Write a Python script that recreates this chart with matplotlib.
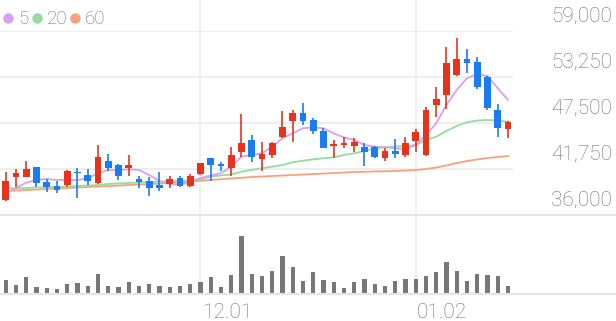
import matplotlib
matplotlib.use('Agg')
import matplotlib.pyplot as plt
from matplotlib.lines import Line2D

plt.rcParams['font.family'] = ['Roboto', 'DejaVu Sans']

# daily candles (open, high, low, close)
opens = [37900, 40700, 40800, 42000, 40100, 39650, 39750, 41350, 41050, 40050,
         42800, 42200, 41850, 40450, 40250, 39700, 39850, 40650, 39650, 41150,
         43100, 42350, 41900, 43850, 45400, 42950, 43500, 45700, 47800, 48700,
         47850, 46500, 44650, 44750, 44600, 44450, 44550, 43150, 44050, 43500,
         45300, 43500, 49750, 51000, 53450, 55450, 55100, 53200, 49100, 46700]
highs = [41400, 41700, 42700, 42050, 40500, 40300, 41600, 41850, 41700, 44700,
         43600, 42400, 43500, 40850, 40800, 41400, 40850, 40850, 41150, 42550,
         43150, 42650, 44450, 48600, 46000, 45150, 45150, 49000, 49100, 49950,
         48100, 46850, 45350, 45800, 45650, 45050, 44600, 44400, 45450, 45700,
         46700, 49550, 51950, 56950, 58100, 56700, 55800, 53400, 49850, 47700]
lows = [37800, 39500, 40750, 39550, 38850, 38800, 39550, 38100, 39750, 39900,
        41500, 40400, 40900, 39400, 38400, 39050, 39400, 39500, 39500, 41000,
        40250, 41500, 40900, 43300, 42650, 41500, 43150, 45600, 45150, 47250,
        46100, 44350, 43150, 44350, 43850, 42150, 43100, 42750, 43100, 43200,
        43900, 43400, 48300, 49200, 53350, 53800, 51700, 49100, 45800, 45600]
closes = [40300, 41200, 41800, 40050, 39450, 39100, 41550, 41200, 40250, 43300,
          41900, 40900, 42250, 40100, 39350, 39350, 40550, 39650, 40900, 42550,
          42200, 42100, 43500, 45050, 43300, 43600, 44950, 47050, 48700, 47800,
          46500, 44400, 44850, 45050, 45150, 43900, 43300, 44050, 43600, 44950,
          46400, 49100, 50500, 54950, 55450, 55050, 51950, 49350, 46850, 47650]
volumes = [137000, 83000, 160000, 63000, 50000, 47000, 93000, 103000, 70000, 193000,
           77000, 63000, 117000, 70000, 90000, 77000, 63000, 73000, 93000, 117000,
           160000, 67000, 180000, 577000, 193000, 173000, 220000, 370000, 263000, 127000,
           213000, 130000, 117000, 57000, 113000, 140000, 90000, 73000, 123000, 140000,
           147000, 170000, 217000, 310000, 227000, 120000, 190000, 180000, 170000, 77000]

# moving averages
ma5 = [38710, 39380, 40040, 40380, 40500, 40380, 40380, 40380, 40590, 41210,
       41630, 41630, 41710, 41630, 41000, 40250, 39880, 39750, 40130, 40630,
       40940, 41210, 42040, 43290, 43500, 43710, 44540, 45590, 46210, 46840,
       46960, 46840, 46210, 45690, 45380, 44750, 44540, 44460, 44340, 44210,
       44750, 46000, 47460, 49750, 51630, 53090, 53630, 53380, 51840, 50380]
ma20 = [39380, 39310, 39380, 39440, 39460, 39500, 39560, 39630, 39690, 39750,
        39880, 39940, 40000, 40060, 40130, 40160, 40250, 40250, 40310, 40440,
        40810, 40940, 41060, 41410, 41630, 41840, 42040, 42250, 42590, 42790,
        42960, 43090, 43210, 43500, 43710, 44000, 44340, 44460, 44540, 44630,
        44750, 45380, 45790, 46500, 47130, 47590, 47810, 47880, 47810, 47660]
ma60 = [39000, 39050, 39120, 39180, 39250, 39310, 39370, 39430, 39500, 39560,
        39620, 39680, 39750, 39810, 39870, 39930, 40000, 40080, 40180, 40280,
        40370, 40470, 40560, 40650, 40750, 40810, 40870, 40930, 41000, 41060,
        41120, 41180, 41250, 41310, 41370, 41400, 41440, 41470, 41500, 41560,
        41620, 41750, 41940, 42190, 42500, 42750, 42940, 43120, 43250, 43370]

ma_periods = ['5', '20', '60']
ma_colors = ['#d9a0f2', '#94dca0', '#f8a27c']
price_ticks = [36000, 41750, 47500, 53250, 59000]
date_pos = [19, 40]
date_labels = ['12.01', '01.02']

UP = '#e8331c'
DOWN = '#1a7cf2'
GRID = '#eeeeee'
TXT = '#6f6f6f'

W, H = 616, 321
fig = plt.figure(figsize=(W / 100, H / 100), dpi=100)
n = len(closes)
xs = list(range(n))
xlim = (-0.556, 49.49)
plot_w = 513 / W

# background for the vertical date lines
bg = fig.add_axes([0, (H - 294) / H, plot_w, 294 / H])
bg.set_xlim(xlim)
bg.axis('off')
for d in date_pos:
    bg.axvline(d, color=GRID, lw=1.2)

ax = fig.add_axes([0, (H - 215) / H, plot_w, (215 - 31) / H])
ax.set_xlim(xlim)
ax.set_ylim(price_ticks[0], price_ticks[-1])
ax.axis('off')
for t in price_ticks[1:]:
    ax.axhline(t, color=GRID, lw=1.5, zorder=0)
ax.axhline(price_ticks[0], xmin=0, xmax=1 / plot_w, color='#e6e6e6', lw=1.4,
           zorder=0, clip_on=False)
for t in price_ticks:
    ax.annotate(f'{t:,}', xy=(612 / 513, t), xycoords=('axes fraction', 'data'),
                xytext=(0, 4), textcoords='offset points', ha='right', va='bottom',
                fontsize=15, color=TXT, fontweight='light', annotation_clip=False)

# candles
for i in xs:
    o, h, l, c = opens[i], highs[i], lows[i], closes[i]
    col = UP if c >= o else DOWN
    ax.vlines(i, l, h, color=col, lw=1.2, zorder=3)
    ax.bar(i, max(abs(c - o), 150), bottom=min(o, c), width=0.66, color=col,
           zorder=4, linewidth=0)

for vals, col in zip([ma60, ma20, ma5], ma_colors[::-1]):
    ax.plot(xs, vals, color=col, lw=1.3, zorder=2)

# volume
vax = fig.add_axes([0, (H - 293.5) / H, plot_w, (293.5 - 215) / H])
vax.set_xlim(xlim)
vax.set_ylim(0, 783000)
vax.axis('off')
vax.bar(xs, volumes, width=0.4, color='#777777', linewidth=0)
vax.axhline(0, xmin=0, xmax=1 / plot_w, color='#e6e6e6', lw=1.5, clip_on=False)
for d, lab in zip(date_pos, date_labels):
    vax.annotate(lab, xy=(d, 0), xycoords=('data', 'axes fraction'),
                 xytext=(1, -7), textcoords='offset points', ha='left', va='top',
                 fontsize=15, color=TXT, fontweight='light', annotation_clip=False)

# legend
handles = [Line2D([], [], ls='none', marker='o', markersize=7.5, color=c,
                  markeredgewidth=0) for c in ma_colors]
fig.legend(handles, ma_periods, loc='upper left', bbox_to_anchor=(-0.022, 1.02),
           ncol=3, frameon=False, handlelength=0.55,
           handletextpad=0.25, columnspacing=0.15, labelcolor=TXT,
           prop={'weight': 'light', 'size': 13.5})

fig.savefig('out.png', dpi=100)
